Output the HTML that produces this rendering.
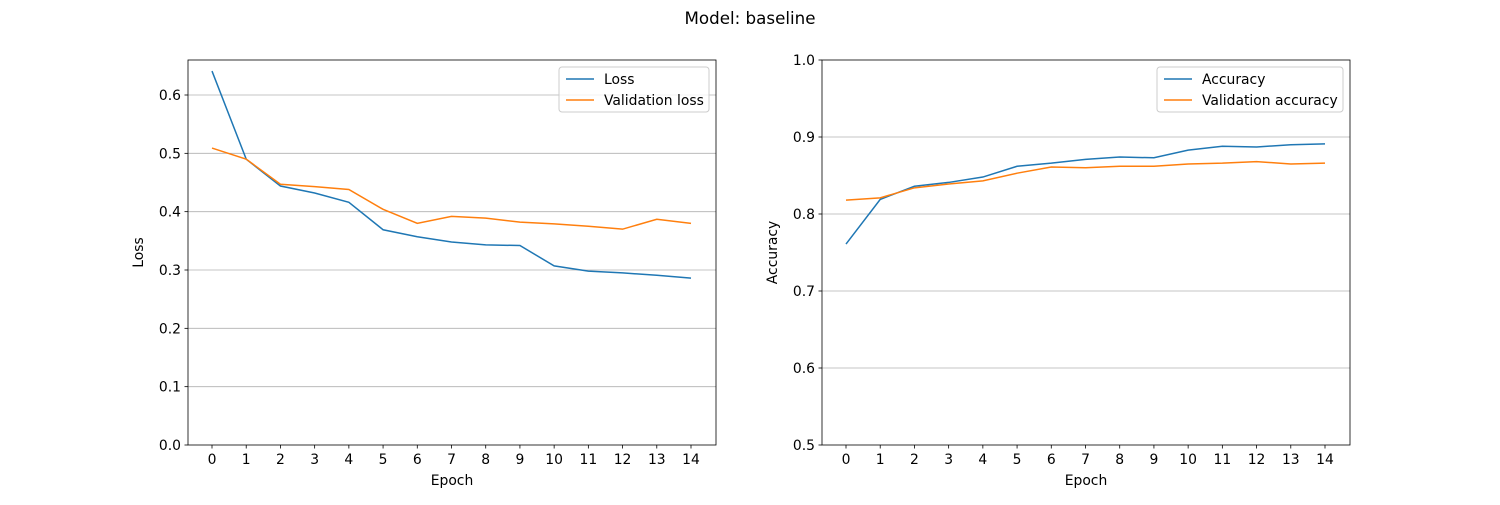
<!DOCTYPE html>
<html><head><meta charset="utf-8"><style>
body{margin:0;background:#fff;width:1500px;height:500px;overflow:hidden}
svg text{font-family:"DejaVu Sans","Liberation Sans",sans-serif;fill:#000}
</style></head><body>
<svg id="fig" width="1500" height="500">
<text x="750" y="24" font-size="16.7" text-anchor="middle">Model: baseline</text>
</svg>
<script>
const epochs=[0,1,2,3,4,5,6,7,8,9,10,11,12,13,14];
const lossVals=[0.641,0.490,0.444,0.432,0.416,0.369,0.357,0.348,0.343,0.342,0.307,0.298,0.295,0.291,0.286];
const valLossVals=[0.509,0.490,0.447,0.443,0.438,0.404,0.380,0.392,0.389,0.382,0.379,0.375,0.370,0.387,0.380];
const accVals=[0.761,0.819,0.836,0.841,0.848,0.862,0.866,0.871,0.874,0.873,0.883,0.888,0.887,0.890,0.891];
const valAccVals=[0.818,0.821,0.834,0.839,0.843,0.853,0.861,0.860,0.862,0.862,0.865,0.866,0.868,0.865,0.866];
const lossTicks=[0,0.1,0.2,0.3,0.4,0.5,0.6];
const accTicks=[0.5,0.6,0.7,0.8,0.9,1.0];
const NS="http://www.w3.org/2000/svg";
const svg=document.getElementById('fig');
const FS=13.9;
function mk(tag,attrs,parent){const e=document.createElementNS(NS,tag);for(const k in attrs)e.setAttribute(k,attrs[k]);(parent||svg).appendChild(e);return e;}
function panel(o){
  const g=mk('g',{});
  
  
  const x=i=>o.x0+ (o.x1-o.x0)*i/14;
  const y=v=>o.top+(o.ymax-v)/(o.ymax-o.ymin)*(o.bot-o.top);
  o.ticks.forEach(t=>{
    const yy=y(t);
    if(t>o.ymin&&t<o.ymax){const gl=mk('line',{x1:o.L,x2:o.R,y1:yy,y2:yy,stroke:'#b0b0b0','stroke-width':0.8},g);
      }
    mk('line',{x1:o.L-3.5,x2:o.L,y1:yy,y2:yy,stroke:'#000','stroke-width':0.8},g);
    const tx=mk('text',{x:o.L-7,y:yy+5,'font-size':FS,'text-anchor':'end'},g);tx.textContent=t.toFixed(1);
    
  });
  epochs.forEach(e=>{
    const xx=x(e);
    mk('line',{x1:xx,x2:xx,y1:o.B,y2:o.B+3.5,stroke:'#000','stroke-width':0.8},g);
    const tx=mk('text',{x:xx,y:o.B+19,'font-size':FS,'text-anchor':'middle'},g);tx.textContent=e;
    
  });
  [[o.s1,'#1f77b4',o.n1],[o.s2,'#ff7f0e',o.n2]].forEach(([s,c,n])=>{
    const p=mk('polyline',{points:s.map((v,i)=>x(epochs[i])+','+y(v)).join(' '),fill:'none',stroke:c,'stroke-width':1.5},g);
    
  });
  const fr=mk('rect',{x:o.L,y:o.T,width:o.R-o.L,height:o.B-o.T,fill:'none',stroke:'#000','stroke-width':0.8},g);
  
  const xl=mk('text',{x:(o.L+o.R)/2,y:485,'font-size':FS,'text-anchor':'middle'},g);xl.textContent='Epoch';
  
  const yl=mk('text',{x:0,y:0,'font-size':FS,'text-anchor':'middle',transform:`translate(${o.L-45},${(o.T+o.B)/2}) rotate(-90)`},g);yl.textContent=o.ylabel;
  
  const lg=mk('g',{},g);
  mk('rect',{x:o.lx,y:67,width:o.lw,height:45,rx:3,fill:'#fff','fill-opacity':0.8,stroke:'#ccc','stroke-width':1},lg);
  [[o.l1,'#1f77b4',79],[o.l2,'#ff7f0e',100]].forEach(([t,c,yy])=>{
    mk('line',{x1:o.lx+7,x2:o.lx+35,y1:yy,y2:yy,stroke:c,'stroke-width':1.5},lg);
    const tx=mk('text',{x:o.lx+45,y:yy+5,'font-size':FS},lg);tx.textContent=t;
    
  });
}
panel({name:'loss-chart',L:188,R:716,T:60,B:445,top:445-0.66/0.6*350,bot:445,ymin:0,ymax:0.66,x0:212,x1:691,
  ticks:lossTicks,s1:lossVals,s2:valLossVals,n1:'loss-line',n2:'val-loss-line',ylabel:'Loss',lx:559,lw:150,l1:'Loss',l2:'Validation loss'});
panel({name:'accuracy-chart',L:822,R:1350,T:60,B:445,top:60,bot:445,ymin:0.5,ymax:1.0,x0:846,x1:1325,
  ticks:accTicks,s1:accVals,s2:valAccVals,n1:'accuracy-line',n2:'val-accuracy-line',ylabel:'Accuracy',lx:1157,lw:186,l1:'Accuracy',l2:'Validation accuracy'});
</script>
</body></html>
